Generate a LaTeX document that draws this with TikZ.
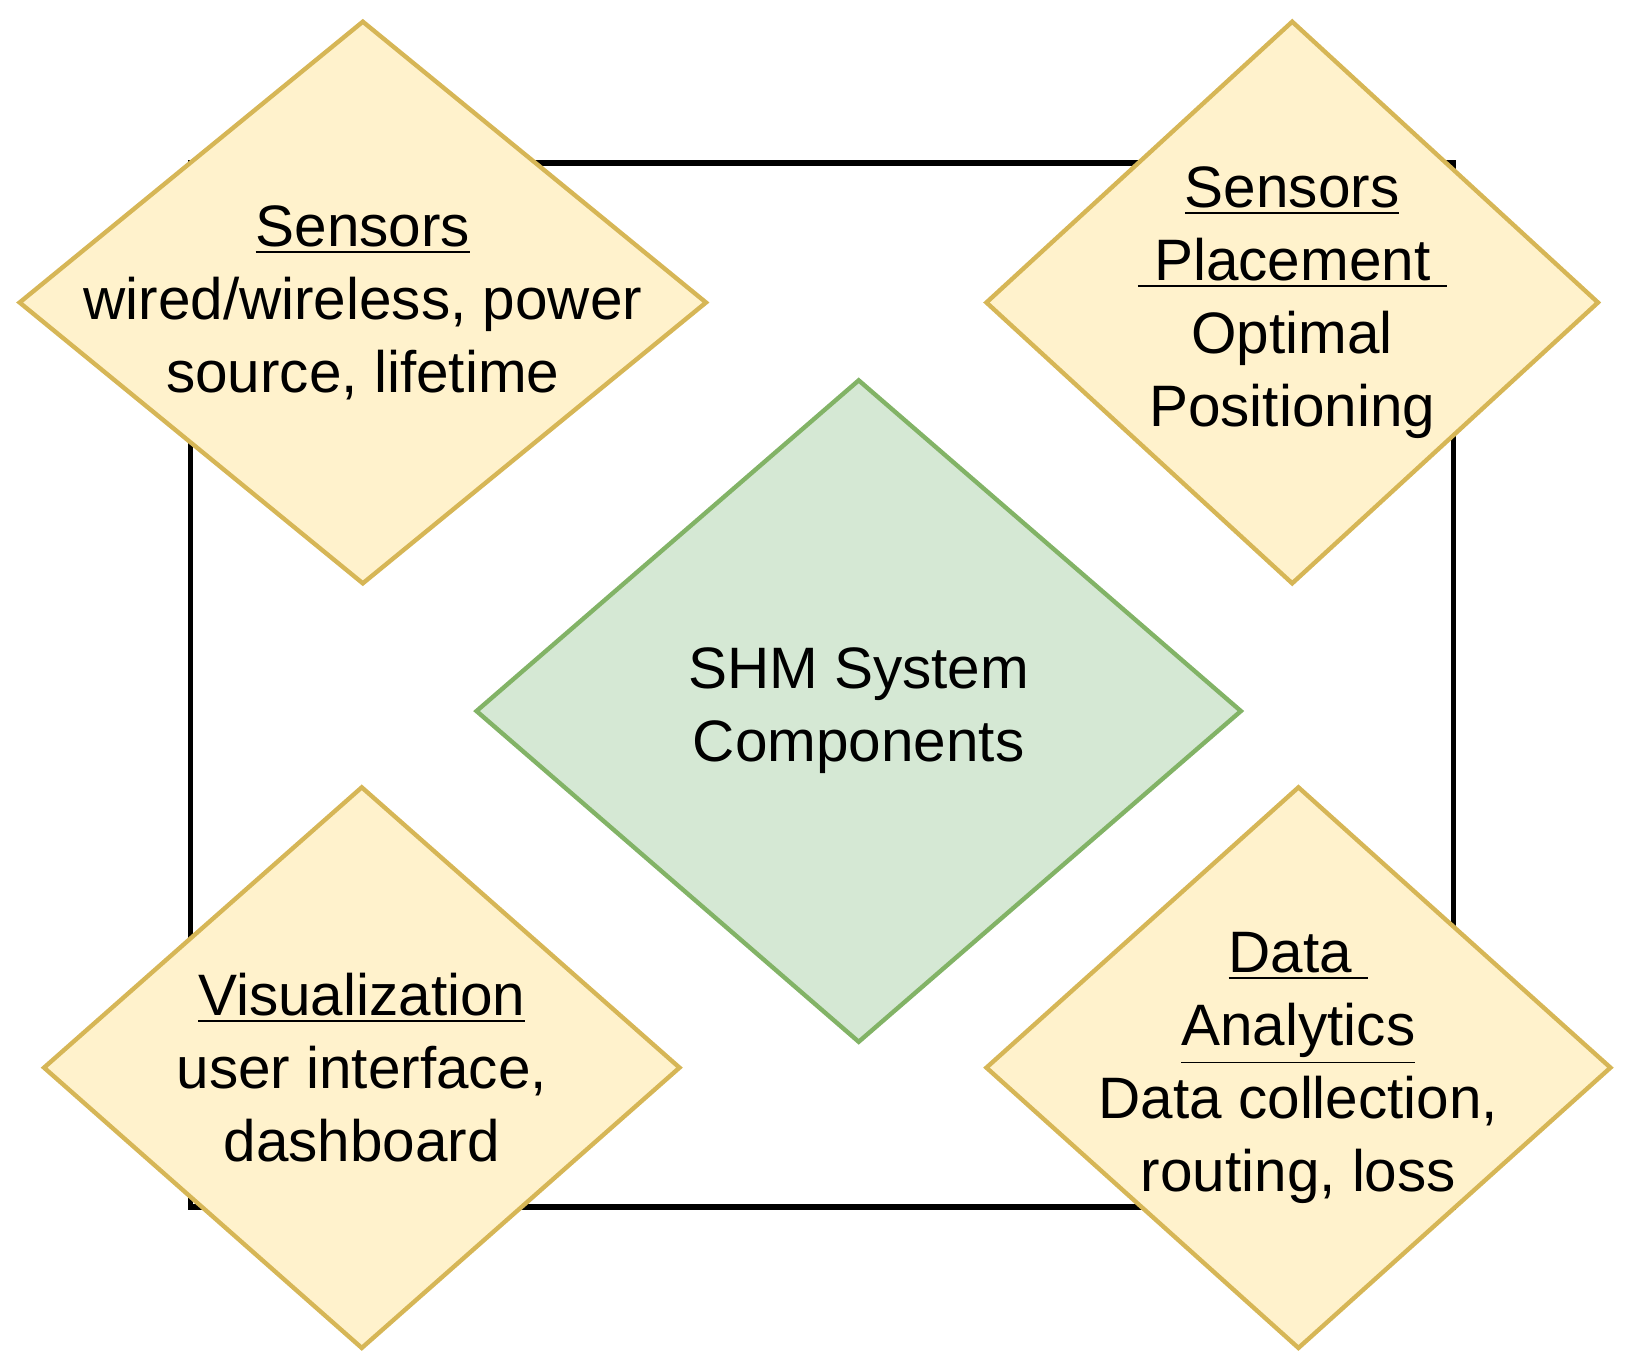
\documentclass[tikz,border=0pt]{standalone}
\usepackage{fontspec}
\setmainfont{Liberation Sans}
\usetikzlibrary{shapes.geometric}
\definecolor{yfill}{HTML}{FFF2CC}
\definecolor{ydraw}{HTML}{D6B656}
\definecolor{gfill}{HTML}{D5E8D4}
\definecolor{gdraw}{HTML}{82B366}

\begin{document}
\begin{tikzpicture}[y=-1cm,
    part/.style={diamond, draw=ydraw, fill=yfill, line width=1.2pt, inner sep=0pt},
    core/.style={diamond, draw=gdraw, fill=gfill, line width=1.2pt, inner sep=0pt},
    txt/.style={align=center, font=\fontsize{16}{20}\selectfont}]

        \useasboundingbox (0,0) rectangle (15.66,13.17);

        % Frame
        \coordinate (TL) at (1.83,1.57);
        \coordinate (BR) at (13.98,11.61);
        \draw[line width=1.5pt] (TL) rectangle (BR);

        % Diamonds
        \node at (3.49,2.91) [part, minimum width=6.62cm, minimum height=5.42cm] (S) {};
        \node at (12.43,2.91) [part, minimum width=5.90cm, minimum height=5.42cm] (P) {};
        \node at (8.26,6.84) [core, minimum width=7.37cm, minimum height=6.38cm] (C) {};
        \node at (3.48,10.27) [part, minimum width=6.13cm, minimum height=5.41cm] (V) {};
        \node at (12.49,10.27) [part, minimum width=6.02cm, minimum height=5.41cm] (D) {};

        % Labels
        \node at (S) [txt] (ST) {\underline{Sensors}\\wired/wireless, power\\source, lifetime};
        \node at (P) [txt] (PT) {\underline{Sensors}\\\underline{\ Placement\ }\\Optimal\\Positioning};
        \node at (C) [txt] (CT) {SHM System\\Components};
        \node at (V) [txt] (VT) {\underline{Visualization}\\user interface,\\dashboard};
        \node at (D) [txt] (DT) {\underline{Data\ }\\\underline{Analytics}\\Data collection,\\routing, loss};

\end{tikzpicture}
\end{document}
